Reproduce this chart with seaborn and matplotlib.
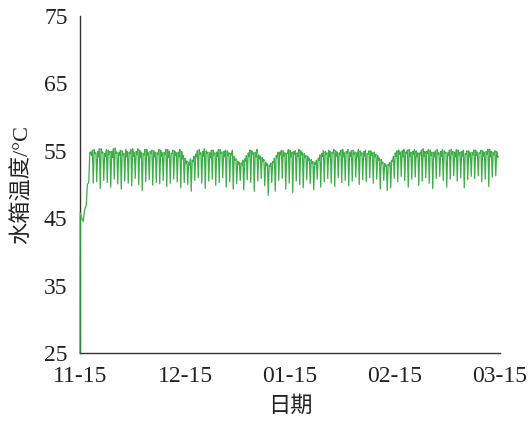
import numpy as np
import pandas as pd
import matplotlib
matplotlib.use("Agg")
import matplotlib.pyplot as plt
import seaborn as sns

# ---- data ----
tick_days = [0, 30, 60, 90, 120]
tick_labels = ["11-15", "12-15", "01-15", "02-15", "03-15"]

# start-up ramp (day, temperature)
ramp_day = [0, 0.05, 0.5, 0.9, 1.3, 1.8, 2.1, 2.5, 2.8]
ramp_temp = [25.0, 45.8, 45.0, 44.5, 46.2, 47.0, 50.0, 50.3, 54.8]

first_day = 3
# daily plateau (morning / midday / afternoon) and daily dip
hi_a = [54.8, 55.2, 54.9, 55.3, 54.6, 55.1, 54.9, 55.4, 54.7, 55.0,
        55.2, 54.8, 55.3, 54.9, 55.1, 54.6, 55.2, 54.9, 55.0, 54.7,
        55.1, 54.8, 55.2, 54.6, 55.0, 54.8, 54.9, 53.9, 53.3, 53.6,
        54.5, 55.2, 54.9, 55.0, 54.7, 55.1, 54.8, 55.2, 54.9, 55.0,
        54.6, 54.2, 53.5, 53.2, 53.8, 54.7, 55.0, 54.8, 54.4, 54.0,
        53.3, 52.9, 53.4, 54.3, 54.8, 55.0, 54.6, 55.1, 54.9, 54.7,
        55.0, 54.6, 54.2, 53.7, 53.3, 53.9, 54.6, 54.9, 55.1, 54.8,
        55.0, 54.7, 55.2, 54.9, 54.8, 55.1, 54.7, 55.0, 54.9, 54.6,
        55.0, 54.8, 54.3, 53.7, 53.1, 53.0, 53.6, 54.7, 55.1, 55.0,
        54.8, 55.2, 54.9, 55.0, 54.7, 55.3, 54.9, 55.1, 54.8, 55.2,
        54.9, 55.0, 54.7, 55.2, 54.8, 55.1, 54.9, 54.6, 55.0, 54.8,
        55.1, 54.7, 55.0, 54.9, 55.2, 54.8, 54.9]
hi_m = [54.3, 54.6, 54.1, 54.7, 54.2, 54.5, 54.0, 54.6, 54.3, 54.4,
        54.1, 54.6, 54.2, 54.5, 54.0, 54.4, 54.3, 54.6, 54.1, 54.5,
        54.2, 54.4, 54.0, 54.6, 54.3, 54.1, 53.8, 53.1, 52.9, 53.4,
        54.1, 54.5, 54.2, 54.6, 54.0, 54.4, 54.2, 54.6, 54.1, 54.3,
        54.4, 53.6, 53.0, 52.9, 53.5, 54.2, 54.5, 54.1, 53.8, 53.4,
        52.8, 52.7, 53.2, 54.0, 54.4, 54.2, 54.6, 54.1, 54.5, 54.2,
        54.4, 54.0, 53.6, 53.1, 53.0, 53.6, 54.2, 54.5, 54.1, 54.6,
        54.2, 54.4, 54.1, 54.6, 54.2, 54.5, 54.1, 54.4, 54.2, 54.5,
        54.3, 54.1, 53.6, 53.1, 52.7, 52.8, 53.4, 54.2, 54.5, 54.1,
        54.6, 54.2, 54.5, 54.1, 54.4, 54.2, 54.6, 54.3, 54.1, 54.5,
        54.2, 54.6, 54.3, 54.5, 54.1, 54.4, 54.2, 54.5, 54.1, 54.4,
        54.3, 54.6, 54.2, 54.5, 54.1, 54.4, 54.0]
hi_b = [55.1, 54.7, 55.3, 54.8, 55.2, 54.9, 55.3, 54.8, 55.1, 54.6,
        54.9, 55.2, 54.7, 55.3, 54.8, 55.2, 54.7, 55.1, 54.8, 55.2,
        54.7, 55.2, 54.9, 55.1, 54.7, 55.2, 54.3, 53.5, 53.8, 54.2,
        55.0, 54.7, 55.3, 54.8, 55.1, 54.7, 55.2, 54.8, 55.1, 54.7,
        55.1, 53.8, 53.3, 53.6, 54.3, 55.1, 54.7, 55.2, 54.2, 53.7,
        53.1, 53.2, 53.9, 54.8, 55.1, 54.7, 55.2, 54.8, 55.0, 55.2,
        54.7, 54.3, 53.9, 53.4, 53.6, 54.4, 55.0, 54.7, 54.9, 55.2,
        54.8, 55.1, 54.7, 55.2, 55.0, 54.8, 55.2, 54.7, 55.1, 55.0,
        54.7, 54.5, 53.9, 53.3, 52.9, 53.3, 54.2, 55.0, 54.8, 55.2,
        55.1, 54.8, 55.2, 54.7, 55.1, 54.9, 55.2, 54.8, 55.0, 54.7,
        55.2, 54.8, 55.1, 54.9, 55.2, 54.8, 55.1, 55.0, 54.7, 55.1,
        54.8, 55.1, 54.8, 55.2, 54.9, 55.0, 54.2]
lo = [50.2, 50.4, 49.4, 50.6, 50.3, 49.6, 50.8, 50.1, 49.3, 50.5,
      50.2, 49.8, 50.9, 50.0, 49.1, 50.4, 50.7, 49.9, 50.3, 50.1,
      50.6, 49.7, 50.2, 50.8, 50.4, 49.5, 50.3, 50.0, 49.0, 50.6,
      51.0, 50.2, 49.4, 50.5, 50.8, 49.9, 50.3, 51.0, 49.6, 50.4,
      49.3, 50.1, 50.6, 49.2, 50.7, 50.3, 49.0, 50.5, 50.9, 49.8,
      48.4, 50.3, 49.0, 50.6, 50.9, 49.3, 50.2, 48.8, 50.5, 50.0,
      49.5, 50.7, 50.1, 49.2, 50.8, 49.6, 50.4, 50.9, 50.2, 49.7,
      51.0, 50.3, 50.6, 49.8, 50.5, 51.1, 50.0, 50.7, 50.4, 51.0,
      50.2, 50.8, 49.3, 50.6, 49.1, 49.5, 50.9, 50.4, 51.2, 50.6,
      49.6, 50.8, 51.1, 49.9, 50.5, 51.0, 50.2, 49.4, 50.9, 51.2,
      50.6, 49.6, 50.8, 51.3, 50.5, 51.0, 49.5, 50.7, 51.2, 50.9,
      51.3, 50.4, 50.8, 49.7, 51.1, 51.3, 50.6]

# ---- build the series ----
days, temps = list(ramp_day), list(ramp_temp)
n = len(lo)
for i in range(n):
    d = first_day + i
    days += [d + 0.05, d + 0.3, d + 0.55]
    temps += [hi_a[i], hi_m[i], hi_b[i]]
    if i < n - 1:
        days.append(d + 0.78)
        temps.append(lo[i])
df = pd.DataFrame({"day": days, "temp": temps})

# ---- plot ----
sns.set_theme(style="white")
plt.rcParams["font.family"] = ["Liberation Serif", "Noto Sans CJK SC"]

fig = plt.figure(figsize=(5.30, 4.22), dpi=100)
ax = fig.add_axes([80 / 530, 1 - 353 / 422, 420 / 530, 337 / 422])

sns.lineplot(data=df, x="day", y="temp", ax=ax, sort=False, estimator=None,
             color="#3dae48", linewidth=0.9)
for ln in ax.lines:
    ln.set_zorder(5)
    ln.set_clip_on(False)

ax.set_xlim(0, 120)
ax.set_ylim(25, 75)
ax.set_xticks(tick_days)
ax.set_xticklabels(tick_labels)
ax.set_yticks([25, 35, 45, 55, 65, 75])

for s in ["top", "right"]:
    ax.spines[s].set_visible(False)
for s in ["left", "bottom"]:
    ax.spines[s].set_color("#333333")
    ax.spines[s].set_linewidth(1.0)

ax.tick_params(axis="both", direction="in", length=5, width=1.0,
               color="#333333", labelsize=17, labelcolor="#222222")
ax.tick_params(axis="x", pad=9)
ax.tick_params(axis="y", pad=9)

ax.set_xlabel("日期", fontsize=16, color="#222222", labelpad=7,
              family=["Liberation Serif", "Noto Sans CJK SC"])
ax.set_ylabel("水箱温度/°C", fontsize=16, color="#222222", labelpad=8,
              family=["Liberation Serif", "Noto Sans CJK SC"])

fig.savefig("out.png", dpi=100)
